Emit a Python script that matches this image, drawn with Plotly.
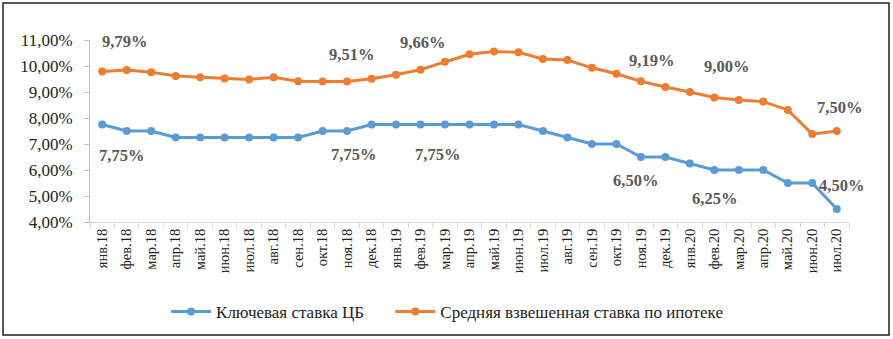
import plotly.graph_objects as go

months = ["янв.18","фев.18","мар.18","апр.18","май.18","июн.18","июл.18","авг.18","сен.18","окт.18","ноя.18","дек.18",
          "янв.19","фев.19","мар.19","апр.19","май.19","июн.19","июл.19","авг.19","сен.19","окт.19","ноя.19","дек.19",
          "янв.20","фев.20","мар.20","апр.20","май.20","июн.20","июл.20"]
key_rate = [7.75,7.5,7.5,7.25,7.25,7.25,7.25,7.25,7.25,7.5,7.5,7.75,
            7.75,7.75,7.75,7.75,7.75,7.75,7.5,7.25,7.0,7.0,6.5,6.5,
            6.25,6.0,6.0,6.0,5.5,5.5,4.5]
mortgage = [9.79,9.85,9.76,9.62,9.57,9.52,9.48,9.57,9.41,9.40,9.40,9.51,
            9.66,9.86,10.16,10.45,10.56,10.53,10.27,10.23,9.93,9.70,9.41,9.19,
            9.00,8.79,8.69,8.63,8.31,7.38,7.50]
y_ticks = [4, 5, 6, 7, 8, 9, 10, 11]
y_tick_text = ["4,00%", "5,00%", "6,00%", "7,00%", "8,00%", "9,00%", "10,00%", "11,00%"]
# (text, x in category units, y in % units)
labels = [("9,79%",0.9,10.95),("7,75%",0.8,6.55),("9,51%",10.2,10.45),("7,75%",10.25,6.6),
          ("9,66%",13.1,10.9),("7,75%",13.7,6.6),("9,19%",22.45,10.2),("6,50%",21.8,5.6),
          ("9,00%",25.5,10.0),("6,25%",25.0,4.9),("7,50%",30.1,8.4),("4,50%",30.2,5.4)]

font = "Liberation Serif, DejaVu Serif"
pad = "\u00a0" * 5
fig = go.Figure()
fig.add_trace(go.Scatter(x=months, y=key_rate, name="Ключевая ставка ЦБ" + pad, mode="lines+markers",
                         line=dict(color="#5B9BD5", width=3), marker=dict(size=8, color="#5B9BD5")))
fig.add_trace(go.Scatter(x=months, y=mortgage, name="Средняя взвешенная ставка по ипотеке", mode="lines+markers",
                         line=dict(color="#ED7D31", width=3), marker=dict(size=8, color="#ED7D31")))
for t, xv, yv in labels:
    fig.add_annotation(x=xv, y=yv, xref="x", yref="y", text="<b>"+t+"</b>", showarrow=False,
                       font=dict(family=font, size=16.5, color="#595959"))

fig.add_shape(type="rect", xref="paper", yref="paper", x0=-0.1146, x1=1.0527, y0=-0.621, y1=1.2033,
              line=dict(color="#222222", width=1.5))

fig.update_layout(
    width=893, height=339, margin=dict(l=90, r=44, t=40, b=117, autoexpand=False),
    paper_bgcolor="white", plot_bgcolor="white",
    font=dict(family=font, size=13, color="#222222"),
    showlegend=True,
    legend=dict(orientation="h", x=0.1002, xanchor="left", yref="container", y=0.08, yanchor="middle",
                font=dict(family=font, size=17, color="#222222"), itemwidth=40),
    xaxis=dict(type="category", range=[-0.5, 30.5], tickangle=-90, showgrid=False, automargin=False,
               showline=True, linecolor="#D9D9D9", linewidth=1, ticks="outside", tickson="boundaries",
               ticklen=5, tickcolor="#D9D9D9", tickfont=dict(family=font, size=14.5, color="#222222")),
    yaxis=dict(range=[4, 11], tickvals=y_ticks, ticktext=y_tick_text, automargin=False,
               showgrid=False, zeroline=False, showline=True, linecolor="#A9C4E0", linewidth=1,
               ticks="outside", ticklen=5, tickcolor="#A9C4E0", ticklabelstandoff=8,
               tickfont=dict(family=font, size=17, color="#222222")),
)
fig.write_html("out.html", post_script="document.body.style.margin='0';",
               config={"displayModeBar": False})
